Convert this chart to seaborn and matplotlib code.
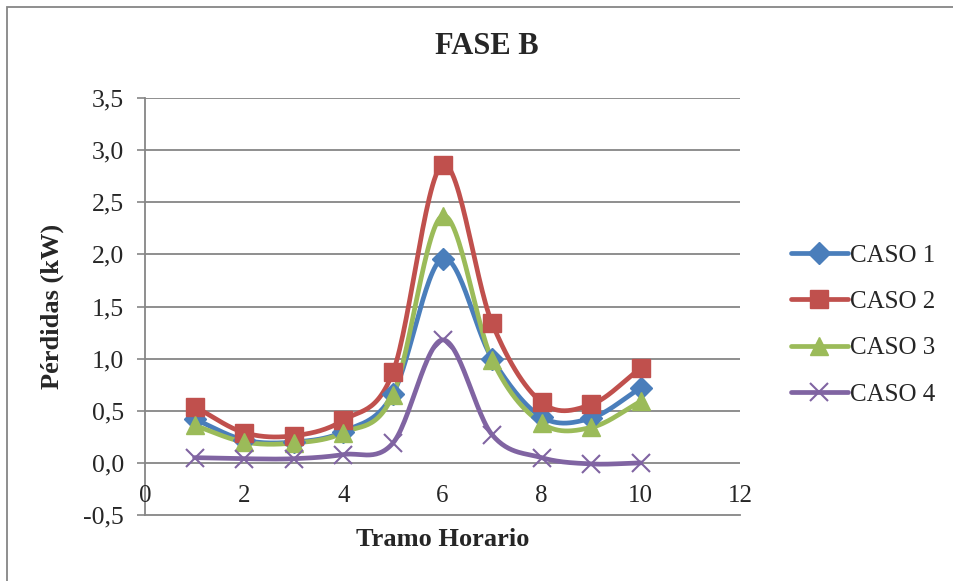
import numpy as np
import pandas as pd
import seaborn as sns
from matplotlib import pyplot as plt
from matplotlib.lines import Line2D
from matplotlib.patches import Rectangle
import matplotlib.transforms as mtransforms

tramo = [1, 2, 3, 4, 5, 6, 7, 8, 9, 10]
caso1 = [0.42, 0.22, 0.20, 0.30, 0.66, 1.96, 1.00, 0.44, 0.43, 0.72]
caso2 = [0.54, 0.29, 0.26, 0.41, 0.87, 2.86, 1.34, 0.58, 0.56, 0.91]
caso3 = [0.36, 0.20, 0.19, 0.29, 0.65, 2.37, 0.99, 0.38, 0.34, 0.59]
caso4 = [0.05, 0.04, 0.04, 0.08, 0.19, 1.18, 0.27, 0.05, -0.01, 0.00]

names = ['CASO 1', 'CASO 2', 'CASO 3', 'CASO 4']
colors = ['#4A7EBB', '#C0504D', '#9BBB59', '#8064A2']
markers = ['D', 's', '^', 'x']
msizes = [11, 13, 13, 13]

xticks = [0, 2, 4, 6, 8, 10, 12]
yticks = [-0.5, 0.0, 0.5, 1.0, 1.5, 2.0, 2.5, 3.0, 3.5]


def smooth(x, y, n=30):
    # catmull-rom curve through the points, like excel's smoothed line
    x = np.asarray(x, float)
    y = np.asarray(y, float)
    px = np.concatenate([[2 * x[0] - x[1]], x, [2 * x[-1] - x[-2]]])
    py = np.concatenate([[2 * y[0] - y[1]], y, [2 * y[-1] - y[-2]]])
    xs, ys = [], []
    t = np.linspace(0, 1, n, endpoint=False)
    for i in range(1, len(px) - 2):
        for p, out in ((px, xs), (py, ys)):
            p0, p1, p2, p3 = p[i - 1], p[i], p[i + 1], p[i + 2]
            out.extend(0.5 * (2 * p1 + (-p0 + p2) * t
                              + (2 * p0 - 5 * p1 + 4 * p2 - p3) * t ** 2
                              + (-p0 + 3 * p1 - 3 * p2 + p3) * t ** 3))
    xs.append(x[-1])
    ys.append(y[-1])
    return np.array(xs), np.array(ys)


sns.set_style('white')
plt.rcParams['font.family'] = ['Liberation Serif', 'DejaVu Serif']

fig = plt.figure(figsize=(9.54, 5.81), dpi=100)
ax = fig.add_axes([145 / 954, 1 - 515 / 581, 595 / 954, 417 / 581])

series = [caso1, caso2, caso3, caso4]
handles = []
for name, vals, c, m, ms in zip(names, series, colors, markers, msizes):
    sx, sy = smooth(tramo, vals)
    sns.lineplot(x=sx, y=sy, color=c, lw=3.4, ax=ax, sort=False, zorder=3)
    mew = 1.5 if m == 'x' else 1
    ax.plot(tramo, vals, ls='none', marker=m, ms=ms, color=c, mec=c, mew=mew, zorder=4)
    handles.append(Line2D([], [], color=c, lw=3.4, marker=m, ms=ms, mec=c, mew=mew))

ax.set_xlim(0, 12)
ax.set_ylim(-0.5, 3.5)
ax.set_yticks(yticks)
ax.set_yticklabels([f'{v:.1f}'.replace('.', ',') for v in yticks], fontsize=18.5)
ax.set_xticks(xticks)
ax.set_xticklabels([])
ax.tick_params(axis='x', length=0)
ax.tick_params(axis='y', length=6, width=1.2, color='#868686', pad=9, direction='out', left=True)

for v in yticks[1:]:
    ax.axhline(v, color='#868686', lw=1.3, zorder=1)

for s in ['top', 'right']:
    ax.spines[s].set_visible(False)
for s in ['left', 'bottom']:
    ax.spines[s].set_color('#868686')
    ax.spines[s].set_linewidth(1.3)

trans = mtransforms.blended_transform_factory(ax.transData, ax.transAxes)
for xv in xticks:
    ax.text(xv, 0.045, str(xv), transform=trans, ha='center', va='center', fontsize=18)

ax.set_xlabel('Tramo Horario', fontsize=19, fontweight='bold', labelpad=6)
ax.set_ylabel('Pérdidas (kW)', fontsize=19, fontweight='bold', labelpad=14)
fig.text(487 / 954, 1 - 47 / 581, 'FASE B', ha='center', va='center', fontsize=22, fontweight='bold')

fig.legend(handles, names, loc='center left', bbox_to_anchor=(768 / 954, 1 - 325 / 581),
           frameon=False, fontsize=18, handlelength=2.3, handletextpad=0.1, labelspacing=0.95)

fig.patches.append(Rectangle((7 / 954, -0.1), 2, 1.1 - 7 / 581, transform=fig.transFigure,
                             fill=False, ec='#868686', lw=1.3))

plt.savefig('out.png', dpi=100)
